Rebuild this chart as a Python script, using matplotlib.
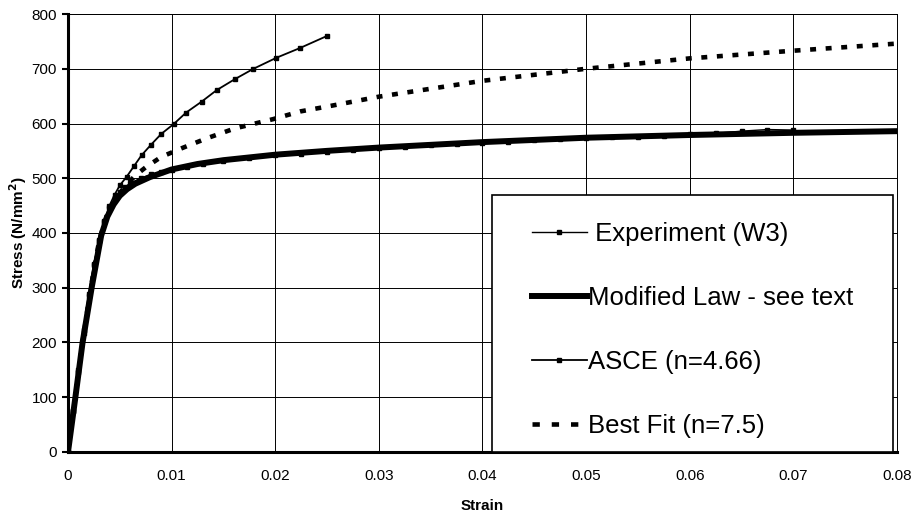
import matplotlib.pyplot as plt
from matplotlib.lines import Line2D
from matplotlib.patches import Rectangle

# Stress-strain data (strain, N/mm^2)
asce_strain = [0, 0.0005, 0.001, 0.0015, 0.002, 0.0025, 0.003, 0.0035, 0.004,
               0.0045, 0.005, 0.00567, 0.0064, 0.0071, 0.008, 0.009, 0.0102,
               0.0114, 0.0129, 0.01435, 0.0161, 0.0179, 0.0201, 0.0224, 0.025]
asce_stress = [0, 75, 150, 222, 288, 342, 386, 420, 450, 470, 487, 503, 523,
               542, 561, 581, 599, 620, 640, 661, 681, 700, 720, 738, 760]

law_strain = [0, 0.0007, 0.0014, 0.0023, 0.0032, 0.0038, 0.0044, 0.005, 0.0057,
              0.0065, 0.0079, 0.01, 0.0125, 0.015, 0.02, 0.025, 0.03, 0.04,
              0.05, 0.06, 0.07, 0.08]
law_stress = [0, 98, 199, 302, 395, 430, 452, 468, 480, 490, 502, 516, 526,
              533, 543, 550, 556, 566, 574, 579, 583, 586]

exp_strain = [0, 0.0005, 0.001, 0.0015, 0.002, 0.0025, 0.003, 0.0035, 0.004,
              0.0045, 0.005, 0.0055, 0.006, 0.007, 0.008, 0.009, 0.01, 0.0115,
              0.013, 0.015, 0.0175, 0.02, 0.0225, 0.025, 0.0275, 0.03, 0.0325,
              0.035, 0.0375, 0.04, 0.0425, 0.045, 0.0475, 0.05, 0.0525, 0.055,
              0.0575, 0.06, 0.0625, 0.065, 0.0675, 0.07]
exp_stress = [0, 74, 146, 217, 284, 344, 388, 422, 446, 463, 475, 484, 491,
              500, 507, 512, 515, 521, 526, 532, 537, 542, 545, 548, 552, 555,
              557, 560, 562, 565, 567, 569, 571, 573, 575, 576, 578, 580, 582,
              586, 589, 588]

fit_strain = [0, 0.0007, 0.0014, 0.0022, 0.003, 0.0037, 0.0045, 0.0055, 0.0065,
              0.0075, 0.009, 0.011, 0.0134, 0.0161, 0.0198, 0.0224, 0.0253,
              0.03, 0.04, 0.05, 0.06, 0.07, 0.08]
fit_stress = [0, 100, 200, 300, 385, 430, 460, 485, 505, 520, 539, 555, 573,
              591, 608, 622, 632, 649, 678, 700, 719, 733, 746]

x_ticks = [0, 0.01, 0.02, 0.03, 0.04, 0.05, 0.06, 0.07, 0.08]
x_labels = ["0", "0.01", "0.02", "0.03", "0.04", "0.05", "0.06", "0.07", "0.08"]
y_ticks = [0, 100, 200, 300, 400, 500, 600, 700, 800]

plt.rcParams["font.family"] = ["Liberation Sans Narrow", "Liberation Sans", "DejaVu Sans"]

fig = plt.figure(figsize=(9.19, 5.2), dpi=100)
ax = fig.add_axes([0.074, 0.131, 0.902, 0.842])

# Curves
ax.plot(fit_strain, fit_stress, color="black", lw=3.3,
        linestyle=(0, (1.3, 2.1)), solid_capstyle="butt", zorder=3)
ax.plot(exp_strain, exp_stress, color="black", lw=1.0, marker="s",
        markersize=3, zorder=4)
ax.plot(law_strain, law_stress, color="black", lw=4.3, zorder=5)
ax.plot(asce_strain, asce_stress, color="black", lw=1.3, marker="s",
        markersize=3, zorder=6)

ax.set_xlim(0, 0.08)
ax.set_ylim(0, 800)
ax.set_xticks(x_ticks)
ax.set_xticklabels(x_labels)
ax.set_yticks(y_ticks)
ax.grid(True, color="black", lw=0.7)
ax.set_axisbelow(True)
ax.tick_params(axis="y", direction="out", length=4, width=1.5, labelsize=11, pad=4)
ax.tick_params(axis="x", length=0, labelsize=11, pad=12)

for side in ("left", "bottom"):
    ax.spines[side].set_linewidth(2.2)
for side in ("top", "right"):
    ax.spines[side].set_linewidth(0.7)

ax.set_xlabel("Strain", fontsize=11, fontweight="bold", labelpad=12)
ax.set_ylabel("Stress (N/mm$^\\mathbf{2}$)", fontsize=11, fontweight="bold", labelpad=2)

# Legend box
ax.add_patch(Rectangle((0.511, 0.0), 0.484, 0.587, transform=ax.transAxes,
                       facecolor="white", edgecolor="black", lw=1.2, zorder=7))
handles = [
    Line2D([], [], color="black", lw=1.0, marker="s", markersize=3),
    Line2D([], [], color="black", lw=4.3),
    Line2D([], [], color="black", lw=1.3, marker="s", markersize=3),
    Line2D([], [], color="black", lw=3.3, linestyle=(0, (1.6, 2.6))),
]
labels = [" Experiment (W3)", "Modified Law - see text", "ASCE (n=4.66)",
          "Best Fit (n=7.5)"]
leg = ax.legend(handles, labels, loc="upper left", bbox_to_anchor=(0.547, 0.548),
                frameon=False, fontsize=18.5, handlelength=2.15, handletextpad=0.05,
                labelspacing=1.55, borderaxespad=0)
leg.set_zorder(8)

fig.savefig("out.png", dpi=100)
